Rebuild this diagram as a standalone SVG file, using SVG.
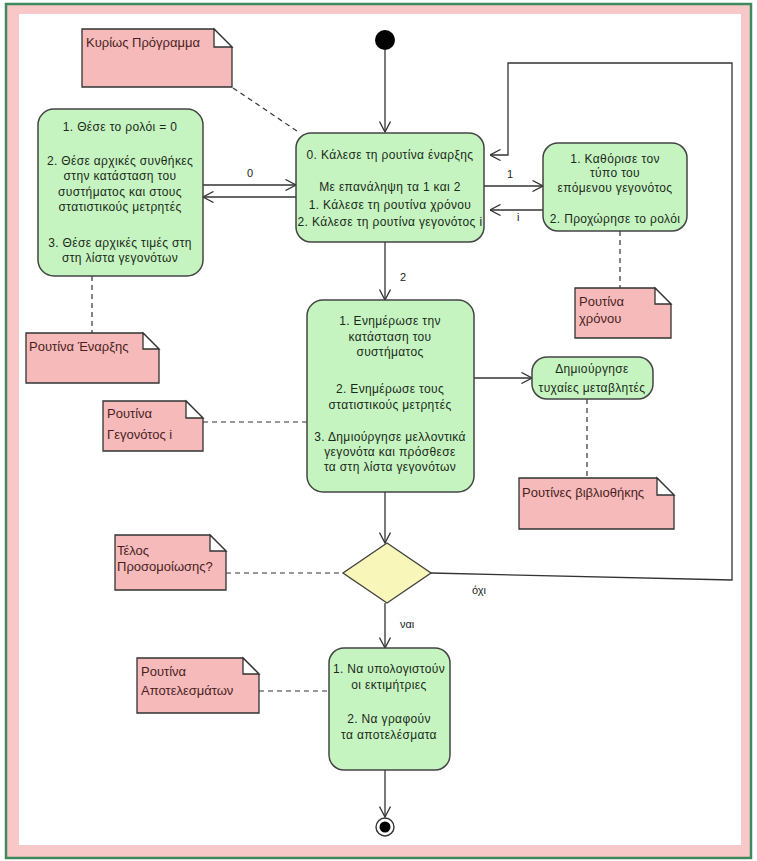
<svg xmlns="http://www.w3.org/2000/svg" width="757" height="861" viewBox="0 0 757 861">
<defs>
<marker id="arr" viewBox="0 0 12 12" refX="11.5" refY="6" markerWidth="12" markerHeight="12" markerUnits="userSpaceOnUse" orient="auto">
<path d="M1,0.5 L11.5,6 L1,11.5" fill="none" stroke="#333" stroke-width="1.3"/>
</marker>
<style>
.node{fill:#c6f4c0;stroke:#444;stroke-width:1.5}
.nt{font-family:"Liberation Sans",Arial,sans-serif;font-size:12px;letter-spacing:0.35px;fill:#1a2a1a;text-anchor:middle}
.note{fill:#f6baba;stroke:#333;stroke-width:1.3}
.fold{fill:#fff;stroke:#333;stroke-width:1.3}
.ntt{font-family:"Liberation Sans",Arial,sans-serif;font-size:13px;fill:#4a1e1e}
.ln{fill:none;stroke:#333;stroke-width:1.3}
.ar{marker-end:url(#arr)}
.dash{fill:none;stroke:#333;stroke-width:1.2;stroke-dasharray:5,4}
.lbl{font-family:"Liberation Sans",Arial,sans-serif;font-size:11px;fill:#222}
</style>
</defs>
<rect x="6" y="4" width="745" height="854" fill="#f8c8c8" stroke="#3c8a5e" stroke-width="2.5"/>
<rect x="19" y="14" width="722" height="831" fill="#fff"/>

<g id="connectors">
<line class="ln ar" x1="385" y1="50" x2="385" y2="132"/>
<line class="ln ar" x1="385" y1="242" x2="385" y2="300"/>
<line class="ln ar" x1="203" y1="185" x2="296" y2="185"/>
<line class="ln ar" x1="296" y1="197" x2="203" y2="197"/>
<line class="ln ar" x1="484" y1="186" x2="543" y2="186"/>
<line class="ln ar" x1="543" y1="210" x2="490" y2="210"/>
<polyline class="ln ar" points="431,573 732,580 732,63 508,63 508,155 490,155"/>
<line class="ln ar" x1="473" y1="378" x2="532" y2="378"/>
<line class="ln ar" x1="385" y1="492" x2="385" y2="543"/>
<line class="ln ar" x1="385" y1="603" x2="385" y2="648"/>
<line class="ln ar" x1="385" y1="770" x2="385" y2="817"/>
<line class="dash" x1="233" y1="88" x2="300" y2="133"/>
<line class="dash" x1="92" y1="276" x2="92" y2="333"/>
<line class="dash" x1="203" y1="422" x2="307" y2="422"/>
<line class="dash" x1="620" y1="231" x2="620" y2="288"/>
<line class="dash" x1="587" y1="399" x2="587" y2="478"/>
<line class="dash" x1="226" y1="573" x2="343" y2="573"/>
<line class="dash" x1="259" y1="691" x2="329" y2="691"/>
<text class="lbl" x="247" y="177">0</text>
<text class="lbl" x="507" y="178">1</text>
<text class="lbl" x="517" y="221">i</text>
<text class="lbl" x="400" y="281">2</text>
<text class="lbl" x="400" y="628">ναι</text>
<text class="lbl" x="472" y="594">όχι</text>
</g>

<g id="start"><circle cx="385" cy="40" r="10" fill="#000"/></g>

<g id="node0">
<rect class="node" x="296" y="133" width="188" height="109" rx="15"/>
<text class="nt" x="390" y="159">0. Κάλεσε τη ρουτίνα έναρξης</text>
<text class="nt" x="390" y="191">Με επανάληψη τα 1 και 2</text>
<text class="nt" x="390" y="209">1. Κάλεσε τη ρουτίνα χρόνου</text>
<text class="nt" x="390" y="226">2. Κάλεσε τη ρουτίνα γεγονότος i</text>
</g>

<g id="init">
<rect class="node" x="38" y="109" width="165" height="167" rx="16"/>
<text class="nt" x="120" y="131">1. Θέσε το ρολόι = 0</text>
<text class="nt" x="120" y="165">2. Θέσε αρχικές συνθήκες</text>
<text class="nt" x="120" y="180">στην κατάσταση του</text>
<text class="nt" x="120" y="196">συστήματος και στους</text>
<text class="nt" x="120" y="211">στατιστικούς μετρητές</text>
<text class="nt" x="120" y="247">3. Θέσε αρχικές τιμές στη</text>
<text class="nt" x="120" y="262">στη λίστα γεγονότων</text>
</g>

<g id="timing">
<rect class="node" x="543" y="143" width="144" height="88" rx="15"/>
<text class="nt" x="615" y="163">1. Καθόρισε τον</text>
<text class="nt" x="615" y="177">τύπο του</text>
<text class="nt" x="615" y="192">επόμενου γεγονότος</text>
<text class="nt" x="615" y="223">2. Προχώρησε το ρολόι</text>
</g>

<g id="event">
<rect class="node" x="307" y="300" width="167" height="192" rx="16"/>
<text class="nt" x="390" y="325">1. Ενημέρωσε την</text>
<text class="nt" x="390" y="341">κατάσταση του</text>
<text class="nt" x="390" y="356">συστήματος</text>
<text class="nt" x="390" y="393">2. Ενημέρωσε τους</text>
<text class="nt" x="390" y="409">στατιστικούς μετρητές</text>
<text class="nt" x="390" y="441">3. Δημιούργησε μελλοντικά</text>
<text class="nt" x="390" y="456">γεγονότα και πρόσθεσε</text>
<text class="nt" x="390" y="471">τα στη λίστα γεγονότων</text>
</g>

<g id="random">
<rect class="node" x="532" y="357" width="121" height="42" rx="15"/>
<text class="nt" x="592" y="373">Δημιούργησε</text>
<text class="nt" x="592" y="392">τυχαίες μεταβλητές</text>
</g>

<g id="decision">
<polygon points="387,543 431,573 387,603 343,573" fill="#f8f6b8" stroke="#444" stroke-width="1.4"/>
</g>

<g id="results">
<rect class="node" x="329" y="648" width="121" height="122" rx="15"/>
<text class="nt" x="389" y="673">1. Να υπολογιστούν</text>
<text class="nt" x="389" y="689">οι εκτιμήτριες</text>
<text class="nt" x="389" y="723">2. Να γραφούν</text>
<text class="nt" x="389" y="739">τα αποτελέσματα</text>
</g>

<g id="end">
<circle cx="385" cy="827" r="9" fill="#fff" stroke="#333" stroke-width="1.4"/>
<circle cx="385" cy="827" r="5.5" fill="#000"/>
</g>

<g id="note-main">
<path class="note" d="M82,29 H214 L232,47 V87 H82 Z"/>
<path class="fold" d="M214,29 V47 H232 Z"/>
<text class="ntt" x="86" y="47">Κυρίως Πρόγραμμα</text>
</g>
<g id="note-init">
<path class="note" d="M26,333 H143 L159,349 V383 H26 Z"/>
<path class="fold" d="M143,333 V349 H159 Z"/>
<text class="ntt" x="29" y="351">Ρουτίνα Έναρξης</text>
</g>
<g id="note-event">
<path class="note" d="M103,401 H186 L203,418 V451 H103 Z"/>
<path class="fold" d="M186,401 V418 H203 Z"/>
<text class="ntt" x="107" y="418">Ρουτίνα</text>
<text class="ntt" x="107" y="439">Γεγονότος i</text>
</g>
<g id="note-timing">
<path class="note" d="M575,288 H655 L671,304 V338 H575 Z"/>
<path class="fold" d="M655,288 V304 H671 Z"/>
<text class="ntt" x="579" y="306">Ρουτίνα</text>
<text class="ntt" x="579" y="323">χρόνου</text>
</g>
<g id="note-lib">
<path class="note" d="M519,478 H657 L674,495 V529 H519 Z"/>
<path class="fold" d="M657,478 V495 H674 Z"/>
<text class="ntt" x="522" y="497">Ρουτίνες βιβλιοθήκης</text>
</g>
<g id="note-end">
<path class="note" d="M115,535 H210 L226,551 V590 H115 Z"/>
<path class="fold" d="M210,535 V551 H226 Z"/>
<text class="ntt" x="117" y="555">Τέλος</text>
<text class="ntt" x="117" y="571">Προσομοίωσης?</text>
</g>
<g id="note-results">
<path class="note" d="M137,658 H243 L259,674 V713 H137 Z"/>
<path class="fold" d="M243,658 V674 H259 Z"/>
<text class="ntt" x="141" y="676">Ρουτίνα</text>
<text class="ntt" x="141" y="695">Αποτελεσμάτων</text>
</g>
</svg>
